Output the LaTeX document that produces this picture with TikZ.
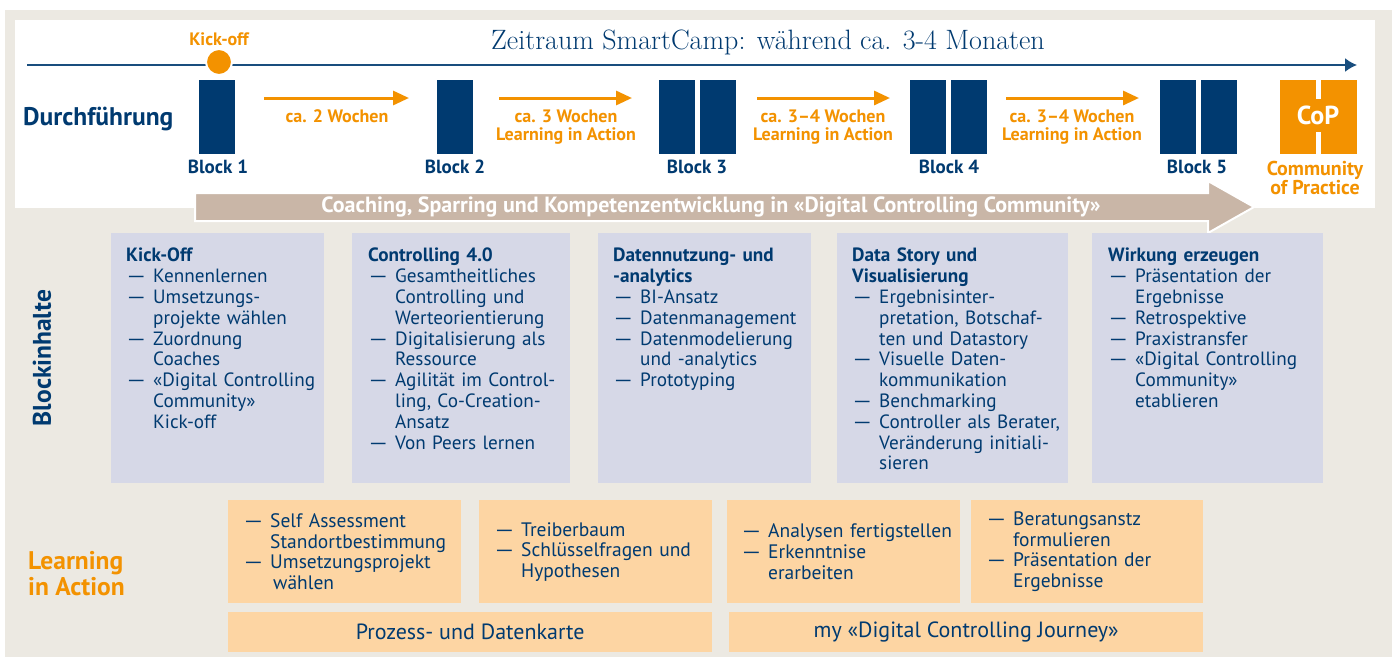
\documentclass[tikz,border=0pt]{standalone}
\usepackage{fontspec}
\setsansfont{PT Sans}
\renewcommand{\familydefault}{\sfdefault}
\usetikzlibrary{arrows.meta}

\definecolor{dunkelblau}{HTML}{003A70}
\definecolor{signalorange}{HTML}{F39200}
\definecolor{hellgrau}{HTML}{ECE9E2}
\definecolor{taupe}{HTML}{C9B6A7}
\definecolor{blockblau}{HTML}{D6D8E7}
\definecolor{pfirsich}{HTML}{FDD5A3}

\newcommand{\strich}{\makebox[27pt][l]{\scalebox{1.3}[1]{—}}}
\newcommand{\einzug}{\hspace*{27pt}}

\begin{document}
\begin{tikzpicture}[x=1pt,y=-1pt,
    block/.style={fill=dunkelblau, minimum width=36pt, minimum height=74pt, inner sep=0pt},
    copblock/.style={block, fill=signalorange},
    blocklabel/.style={font=\fontsize{19}{21}\selectfont\bfseries, text=dunkelblau, inner sep=0pt, anchor=base},
    wochen/.style={draw=signalorange, line width=3pt, -{Triangle[length=16pt,width=14pt]}},
    wochenlabel/.style={font=\fontsize{18}{18}\selectfont\bfseries, text=signalorange, align=center, inner sep=0pt},
    zeile/.style={font=\fontsize{25.5}{26}\selectfont\bfseries, inner sep=0pt},
    inhaltbox/.style={fill=blockblau, minimum width=#1, minimum height=250pt, anchor=north west, inner sep=0pt},
    inhalttext/.style={anchor=north west, inner sep=0pt, text width=250pt, align=left,
        font=\fontsize{19.2}{20.8}\selectfont, text=dunkelblau},
    laibox/.style={fill=pfirsich, minimum width=#1, minimum height=103pt, anchor=north west, inner sep=0pt},
    laitext/.style={anchor=west, inner sep=0pt, text width=250pt, align=left,
        font=\fontsize{19.5}{20.6}\selectfont, text=dunkelblau}
  ]
  \useasboundingbox (0,0) rectangle (1392,657);

  % Hintergrund
  \fill[white] (0,0) rectangle (1392,657);
  \fill[hellgrau] (5,10) rectangle (1392,657);
  \fill[white] (15,20) rectangle (1375,208);

  % Zeitstrahl
  \coordinate (zs) at (27,65);
  \coordinate (ze) at (1357,65);
  \draw[dunkelblau!90, line width=1.8pt, -{Latex[length=12pt,width=14pt]}] (zs) -- (ze);
  \node[circle, fill=signalorange, draw=white, line width=2pt, minimum size=26pt, inner sep=0pt] (ko) at (219,62) {};
  \node[anchor=base, font=\fontsize{18}{20}\selectfont\bfseries, text=signalorange, inner sep=0pt] at (219,45) {Kick-off};
  \node[anchor=base, font=\rmfamily\fontsize{28}{32}\selectfont, text=dunkelblau, inner sep=0pt] at (768,49)
    {Zeitraum SmartCamp: während ca. 3-4 Monaten};

  \node[zeile, anchor=base west, text=dunkelblau] at (23,125) {Durchführung};

  % Bloecke
  \node[block] (b1) at (217,117) {};
  \node[block] (b2) at (455,117) {};
  \node[block] (b3a) at (677,117) {};
  \node[block] (b3b) at (718,117) {};
  \node[block] (b4a) at (928,117) {};
  \node[block] (b4b) at (969,117) {};
  \node[block] (b5a) at (1178,117) {};
  \node[block] (b5b) at (1219,117) {};
  \node[copblock] (cpa) at (1298,117) {};
  \node[copblock] (cpb) at (1339,117) {};
  \node[fill=signalorange, text=white, font=\fontsize{26}{28}\selectfont\bfseries,
        minimum height=33pt, inner xsep=3pt, inner ysep=0pt] (cop) at (1318,115) {CoP};

  \node[blocklabel] at (218,173) {Block 1};
  \node[blocklabel] at (455,173) {Block 2};
  \node[blocklabel] at (697,173) {Block 3};
  \node[blocklabel] at (949,173) {Block 4};
  \node[blocklabel] at (1197,173) {Block 5};
  \node[wochenlabel, font=\fontsize{20}{19}\selectfont\bfseries] at (1315,178) {Community\\of Practice};

  % Wochen-Pfeile
  \coordinate (p1s) at (264,98);  \coordinate (p1e) at (409,98);
  \coordinate (p2s) at (499,98);  \coordinate (p2e) at (632,98);
  \coordinate (p3s) at (757,98);  \coordinate (p3e) at (890,98);
  \coordinate (p4s) at (1006,98); \coordinate (p4e) at (1139,98);
  \draw[wochen] (p1s) -- (p1e);
  \draw[wochen] (p2s) -- (p2e);
  \draw[wochen] (p3s) -- (p3e);
  \draw[wochen] (p4s) -- (p4e);
  \node[wochenlabel, anchor=base] at (337,122) {ca. 2 Wochen};
  \node[wochenlabel] at (566,127) {ca. 3 Wochen\\Learning in Action};
  \node[wochenlabel] at (823,127) {ca. 3–4 Wochen\\Learning in Action};
  \node[wochenlabel] at (1072,127) {ca. 3–4 Wochen\\Learning in Action};

  % Coaching-Pfeil
  \fill[taupe, draw=white, line width=2pt] (195,193) -- (1208,193) -- (1208,181) -- (1254,207)
    -- (1208,233) -- (1208,221) -- (195,221) -- cycle;
  \node[text=white, font=\fontsize{22}{24}\selectfont\bfseries, inner sep=0pt] at (711,207)
    {Coaching, Sparring und Kompetenzentwicklung in «Digital Controlling Community»};

  % Blockinhalte
  \node[zeile, rotate=90, text=dunkelblau] at (42,358) {Blockinhalte};

  \node[inhaltbox=213pt] (k1) at (111,233) {};
  \node[inhaltbox=218pt] (k2) at (352,233) {};
  \node[inhaltbox=213pt] (k3) at (598,233) {};
  \node[inhaltbox=231pt] (k4) at (837,233) {};
  \node[inhaltbox=231pt] (k5) at (1092,233) {};

  \node[inhalttext] at ([shift={(15,15)}]k1.north west) {\textbf{Kick-Off}\\
    \strich Kennenlernen\\
    \strich Umsetzungs-\\
    \einzug projekte wählen\\
    \strich Zuordnung\\
    \einzug Coaches\\
    \strich «Digital Controlling\\
    \einzug Community»\\
    \einzug Kick-off};
  \node[inhalttext] at ([shift={(16,15)}]k2.north west) {\textbf{Controlling 4.0}\\
    \strich Gesamtheitliches\\
    \einzug Controlling und\\
    \einzug Werteorientierung\\
    \strich Digitalisierung als\\
    \einzug Ressource\\
    \strich Agilität im Control-\\
    \einzug ling, Co-Creation-\\
    \einzug Ansatz\\
    \strich Von Peers lernen};
  \node[inhalttext] at ([shift={(15,15)}]k3.north west) {\textbf{Datennutzung- und}\\
    \textbf{-analytics}\\
    \strich BI-Ansatz\\
    \strich Datenmanagement\\
    \strich Datenmodelierung\\
    \einzug und -analytics\\
    \strich Prototyping};
  \node[inhalttext] at ([shift={(15,15)}]k4.north west) {\textbf{Data Story und}\\
    \textbf{Visualisierung}\\
    \strich Ergebnisinter-\\
    \einzug pretation, Botschaf-\\
    \einzug ten und Datastory\\
    \strich Visuelle Daten-\\
    \einzug kommunikation\\
    \strich Benchmarking\\
    \strich Controller als Berater,\\
    \einzug Veränderung initiali-\\
    \einzug sieren};
  \node[inhalttext] at ([shift={(16,15)}]k5.north west) {\textbf{Wirkung erzeugen}\\
    \strich Präsentation der\\
    \einzug Ergebnisse\\
    \strich Retrospektive\\
    \strich Praxistransfer\\
    \strich «Digital Controlling\\
    \einzug Community»\\
    \einzug etablieren};

  % Learning in Action
  \node[zeile, anchor=west, align=left, text=signalorange] at (28,574) {Learning\\in Action};

  \node[laibox=233pt] (la1) at (228,500) {};
  \node[laibox=233pt] (la2) at (479,500) {};
  \node[laibox=233pt] (la3) at (727,500) {};
  \node[laibox=232pt] (la4) at (971,500) {};
  \node[laitext] at ([xshift=15pt]la1.west) {\strich Self Assessment\\
    \einzug Standortbestimmung\\
    \strich Umsetzungsprojekt\\
    \einzug\hspace*{3pt}wählen};
  \node[laitext] at ([xshift=15pt]la2.west) {\strich Treiberbaum\\
    \strich Schlüsselfragen und\\
    \einzug Hypothesen};
  \node[laitext] at ([xshift=14pt]la3.west) {\strich Analysen fertigstellen\\
    \strich Erkenntnise\\
    \einzug erarbeiten};
  \node[laitext] at ([xshift=15pt]la4.west) {\strich Beratungsanstz\\
    \einzug formulieren\\
    \strich Präsentation der\\
    \einzug Ergebnisse};

  \node[fill=pfirsich, minimum width=484pt, minimum height=40pt, anchor=north west, inner sep=0pt,
        font=\fontsize{22}{24}\selectfont, text=dunkelblau] (karte) at (228,612) {Prozess- und Datenkarte};
  \node[fill=pfirsich, minimum width=474pt, minimum height=40pt, anchor=north west, inner sep=0pt,
        font=\fontsize{22}{24}\selectfont, text=dunkelblau] (journey) at (729,612) {my «Digital Controlling Journey»};
\end{tikzpicture}
\end{document}
